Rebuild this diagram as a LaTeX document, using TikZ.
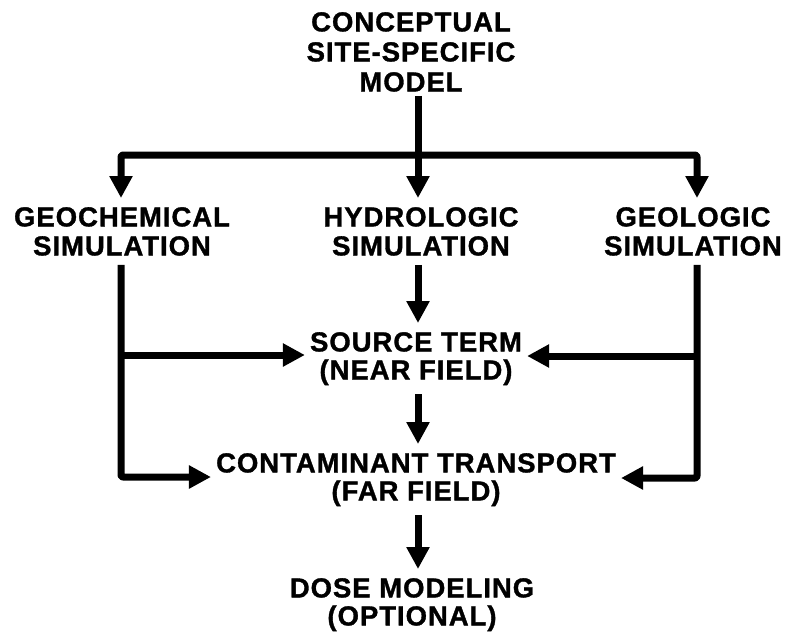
\documentclass[tikz,border=0pt]{standalone}
\usepackage{fontspec}
\newfontfamily\diagfont{Liberation Sans}[LetterSpace=3.5,FakeBold=1.2]
\usetikzlibrary{arrows.meta}
\tikzset{
  lbl/.style={font=\diagfont\bfseries\fontsize{27.5}{29}\selectfont, align=center,
              inner xsep=5pt, inner ysep=9pt, anchor=north},
  tightlbl/.style={lbl, font=\diagfont\bfseries\fontsize{27.5}{28}\selectfont},
  flow/.style={line width=7pt, line join=round, rounded corners=2pt},
  arr/.style={flow, -{Triangle[length=22pt,width=22pt]}},
}
\begin{document}
\begin{tikzpicture}[x=1pt,y=-1pt]
\useasboundingbox[fill=white] (0,0) rectangle (790,635);
% nodes
\node[lbl] (title) at (411,3) {CONCEPTUAL\\[1pt]SITE-SPECIFIC\\[1pt]MODEL};
\node[lbl] (geo)  at (122,198) {GEOCHEMICAL\\SIMULATION};
\node[lbl] (hyd)  at (421,198) {HYDROLOGIC\\SIMULATION};
\node[lbl] (geol) at (693,198) {GEOLOGIC\\SIMULATION};
\node[tightlbl] (src)  at (416,323) {SOURCE TERM\\(NEAR FIELD)};
\node[tightlbl] (cont) at (416,444) {CONTAMINANT TRANSPORT\\(FAR FIELD)};
\node[tightlbl] (dose) at (412,569) {DOSE MODELING\\(OPTIONAL)};
% junctions
\coordinate (j)  at (418,155);
\coordinate (cL) at (121,155);
\coordinate (cR) at (697,155);
\coordinate (lm) at (121,355);
\coordinate (lb) at (121,477);
\coordinate (rm) at (697,356);
\coordinate (rb) at (697,478);
% top distribution
\draw[flow, shorten <=-5pt] (title.south -| j) -- (j);
\draw[arr] (j) -- (cL) -- (cL |- geo.north);
\draw[arr] (j) -- (cR) -- (cR |- geol.north);
\draw[arr] (j) -- (j |- hyd.north);
% left side
\draw[arr] (geo.south -| lb) -- (lb) -- (cont.west |- lb);
\draw[arr] (lm) -- (src.west |- lm);
% right side
\draw[arr] (geol.south -| rb) -- (rb) -- (cont.east |- rb);
\draw[arr] (rm) -- (src.east |- rm);
% middle column
\draw[arr] (hyd.south -| j) -- (src.north -| j);
\draw[arr] (src.south -| j) -- (cont.north -| j);
\draw[arr] (cont.south -| j) -- (dose.north -| j);
\end{tikzpicture}
\end{document}
